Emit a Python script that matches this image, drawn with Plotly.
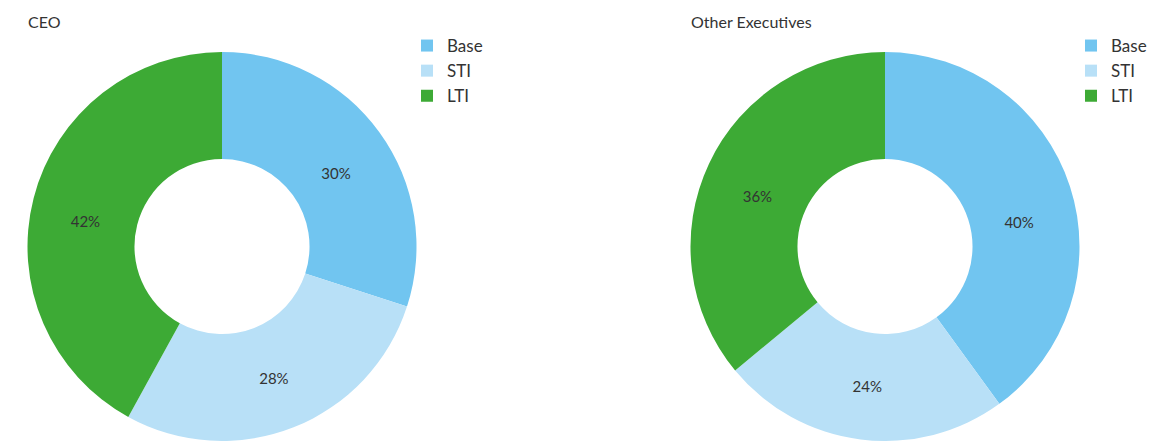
import plotly.graph_objects as go

categories = ["Base", "STI", "LTI"]
ceo_values = [30, 28, 42]
exec_values = [40, 24, 36]
colors = ["#71C5F0", "#B8E0F7", "#3DAA35"]

W, H = 1166, 441
TOP = 52
PLOT_H = H - TOP
FONT = "Lato, Open Sans, sans-serif"
TEXT = "#333333"

# Blank leading lines nudge the upper labels a little lower in the ring.
PAD1 = "&nbsp;<br>"
PAD2 = "&nbsp;<br>&nbsp;<br>"


def py(pixel_y):
    """Convert a pixel row (from the top of the page) into paper y."""
    return 1 + (TOP - pixel_y) / PLOT_H


fig = go.Figure()

common = dict(
    hole=0.45,
    sort=False,
    direction="clockwise",
    rotation=0,
    marker=dict(colors=colors, line=dict(width=0)),
    textposition="inside",
    insidetextorientation="horizontal",
    textfont=dict(family=FONT, size=15, color=TEXT),
    hoverinfo="label+value",
)

fig.add_trace(go.Pie(labels=categories, values=ceo_values,
                     texttemplate=[PAD1 + "%{value}%", "%{value}%", PAD1 + "%{value}%"],
                     domain=dict(x=[26 / W, 418 / W], y=[0, 1]),
                     legend="legend", **common))
# Pie legend entries are keyed by label text, so the second donut gets
# visually identical but distinct keys to keep its own legend.
fig.add_trace(go.Pie(labels=[c + " " for c in categories], values=exec_values,
                     texttemplate=[PAD2 + "%{value}%", "%{value}%", PAD1 + "%{value}%"],
                     domain=dict(x=[689 / W, 1081 / W], y=[0, 1]),
                     legend="legend2", **common))

legend_style = dict(
    yanchor="top", xanchor="left",
    font=dict(family=FONT, size=17, color=TEXT),
    bgcolor="rgba(0,0,0,0)",
    itemclick=False,
    tracegroupgap=0,
)

fig.update_layout(
    width=W, height=H,
    margin=dict(l=0, r=0, t=TOP, b=0),
    paper_bgcolor="white",
    plot_bgcolor="white",
    font=dict(family=FONT, color=TEXT),
    legend=dict(x=407 / W, y=py(28), **legend_style),
    legend2=dict(x=1071 / W, y=py(28), **legend_style),
    annotations=[
        dict(text="CEO", x=26 / W, y=py(22), xref="paper", yref="paper",
             xanchor="left", yanchor="middle", showarrow=False,
             font=dict(family=FONT, size=16, color=TEXT)),
        dict(text="Other Executives", x=689 / W, y=py(22), xref="paper", yref="paper",
             xanchor="left", yanchor="middle", showarrow=False,
             font=dict(family=FONT, size=16, color=TEXT)),
    ],
)

fig.write_html("out.html")
